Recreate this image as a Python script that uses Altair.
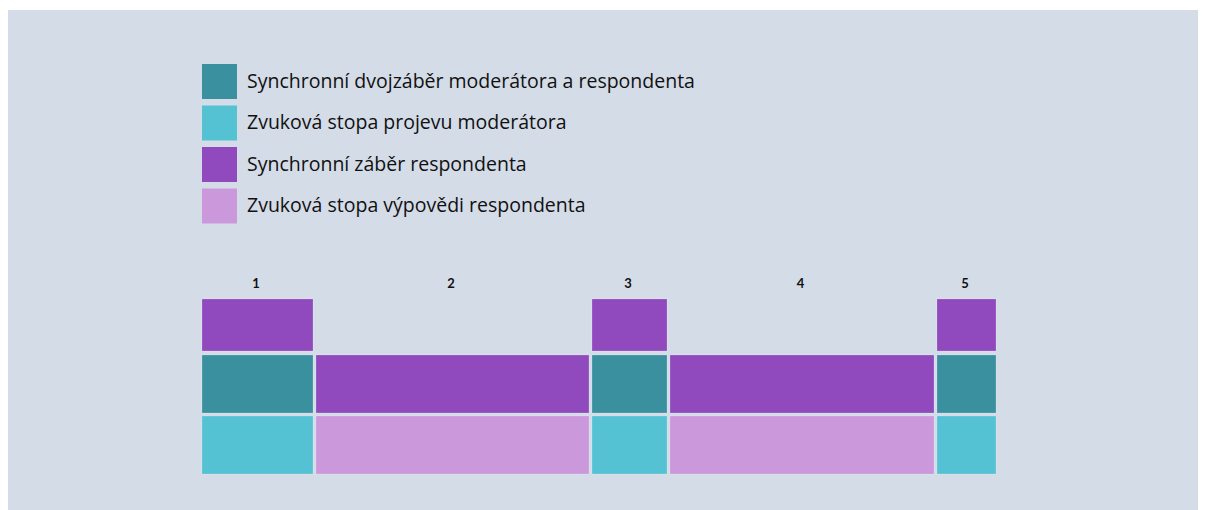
import altair as alt
import pandas as pd

# Data
segment_labels = ["1", "2", "3", "4", "5"]
segment_durations = [114, 276, 78, 267, 62]
tracks = ["top", "mid", "bot"]
top_track = ["Synchronní záběr respondenta", None, "Synchronní záběr respondenta", None, "Synchronní záběr respondenta"]
mid_track = ["Synchronní dvojzáběr moderátora a respondenta", "Synchronní záběr respondenta",
             "Synchronní dvojzáběr moderátora a respondenta", "Synchronní záběr respondenta",
             "Synchronní dvojzáběr moderátora a respondenta"]
bot_track = ["Zvuková stopa projevu moderátora", "Zvuková stopa výpovědi respondenta",
             "Zvuková stopa projevu moderátora", "Zvuková stopa výpovědi respondenta",
             "Zvuková stopa projevu moderátora"]
categories = ["Synchronní dvojzáběr moderátora a respondenta", "Zvuková stopa projevu moderátora",
              "Synchronní záběr respondenta", "Zvuková stopa výpovědi respondenta"]
colors = ["#3a909f", "#55c2d3", "#914abd", "#ca98db"]

BG = "#d4dce8"

starts = []
acc = 0
for d in segment_durations:
    starts.append(acc)
    acc += d
ends = [s + d for s, d in zip(starts, segment_durations)]

rows = []
for track, cats in zip(tracks, [top_track, mid_track, bot_track]):
    for i, c in enumerate(cats):
        if c is not None:
            rows.append({"track": track, "start": starts[i], "end": ends[i], "cat": c, "seg": segment_labels[i]})
bars_df = pd.DataFrame(rows)
top_df = bars_df[bars_df["track"] == "top"]
low_df = bars_df[bars_df["track"] != "top"]

labels_df = pd.DataFrame({
    "seg": segment_labels,
    "mid": [(s + e) / 2 for s, e in zip(starts, ends)],
    "track": ["top"] * 5,
})

xscale = alt.Scale(domain=[-194, 996], nice=False, zero=False)
yscale = alt.Scale(domain=tracks, range=[284, 464], paddingInner=0.0492, paddingOuter=0)

color_enc = alt.Color(
    "cat:N",
    scale=alt.Scale(domain=categories, range=colors),
    sort=categories,
    legend=alt.Legend(
        title=None,
        orient="none",
        legendX=194,
        legendY=54,
        symbolType="square",
        symbolSize=1225,
        symbolStrokeWidth=0,
        symbolOpacity=1,
        rowPadding=6.5,
        labelFontSize=19.5,
        labelFont="Open Sans",
        labelFontWeight=500,
        labelColor="#111111",
        labelOffset=10,
        labelLimit=800,
        padding=0,
    ),
)

low_bars = alt.Chart(low_df).mark_rect(x2Offset=-3, stroke="white", strokeOpacity=0.18, strokeWidth=1).encode(
    x=alt.X("start:Q", scale=xscale, axis=None),
    x2="end:Q",
    y=alt.Y("track:N", scale=yscale, axis=None),
    color=color_enc,
)

top_bars = alt.Chart(top_df).mark_rect(x2Offset=-3, height=52, yOffset=2, stroke="white", strokeOpacity=0.18, strokeWidth=1).encode(
    x=alt.X("start:Q", scale=xscale, axis=None),
    x2="end:Q",
    y=alt.Y("track:N", scale=yscale, axis=None),
    color=color_enc,
)

texts = alt.Chart(labels_df).mark_text(font="Lato", fontSize=13, fontWeight="bold", color="#111111", dy=-39, dx=-3).encode(
    x=alt.X("mid:Q", scale=xscale, axis=None),
    y=alt.Y("track:N", scale=yscale, axis=None),
    text="seg:N",
)

chart = alt.layer(low_bars, top_bars, texts).properties(
    width=1190,
    height=500,
    autosize=alt.AutoSizeParams(type="none"),
    padding={"left": 0, "top": 2, "right": 0, "bottom": 0},
    background="white",
).configure_view(fill=BG, stroke=None)

chart.save("out.html", embed_options={"renderer": "svg", "actions": False})
